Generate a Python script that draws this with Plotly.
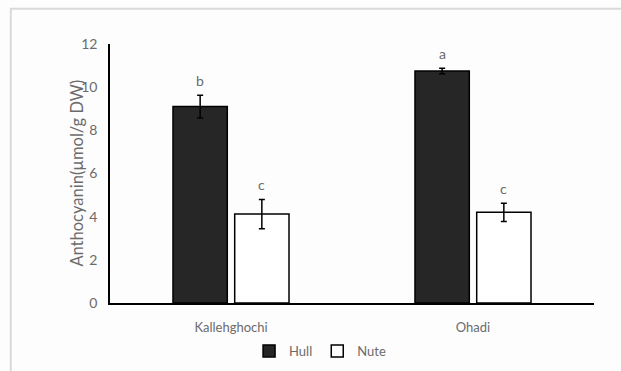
import plotly.graph_objects as go

# Data
cultivars = ["Kallehghochi", "Ohadi"]
hull_mean = [9.1, 10.75]
hull_err = [0.53, 0.13]
nute_mean = [4.12, 4.2]
nute_err = [0.68, 0.42]
hull_letters = ["b", "a"]
nute_letters = ["c", "c"]
y_ticks = [0, 2, 4, 6, 8, 10, 12]
y_title = "Anthocyanin(µmol/g DW)"

FONT = "Lato, 'Open Sans', sans-serif"
GRAY = "#6b6b6b"
BARGAP = 0.49

fig = go.Figure()
fig.add_trace(go.Bar(
    name="Hull", x=cultivars, y=hull_mean,
    marker=dict(color="#262626", line=dict(color="#000000", width=1.5)),
    error_y=dict(type="data", array=hull_err, color="#000000", thickness=1.5, width=3),
))
fig.add_trace(go.Bar(
    name="Nute", x=cultivars, y=nute_mean,
    marker=dict(color="#ffffff", line=dict(color="#000000", width=1.5)),
    error_y=dict(type="data", array=nute_err, color="#000000", thickness=1.5, width=3),
))

# significance letters above the error bars (centred on each grouped bar)
slot = (1 - BARGAP) / 2
for i, c in enumerate(cultivars):
    for off, mean, err, letter in ((-slot / 2, hull_mean[i], hull_err[i], hull_letters[i]),
                                   (slot / 2, nute_mean[i], nute_err[i], nute_letters[i])):
        fig.add_annotation(
            x=i + off, y=mean + err, xref="x", yref="y", text=letter,
            showarrow=False, yanchor="bottom", yshift=4,
            font=dict(family=FONT, size=14, color=GRAY),
        )

# y-axis title, placed as a rotated annotation
fig.add_annotation(
    x=-0.07, y=0.5, xref="paper", yref="paper", text=y_title, textangle=-90,
    showarrow=False, xanchor="center", yanchor="middle",
    font=dict(family=FONT, size=16.5, color=GRAY),
)

# chart frame
fig.add_shape(type="rect", xref="paper", yref="paper",
              x0=-0.205, x1=1.2, y0=-0.5, y1=1.136,
              line=dict(color="#d9d9d9", width=2), layer="below")

fig.update_layout(
    width=621, height=371,
    margin=dict(l=110, r=27, t=44, b=68, autoexpand=False),
    paper_bgcolor="#fdfdfd", plot_bgcolor="#fdfdfd",
    barmode="group", bargap=BARGAP, bargroupgap=0.12,
    font=dict(family=FONT, size=12, color=GRAY),
    showlegend=True,
    legend=dict(orientation="h", x=0.434, y=0.054, xref="paper", yref="container",
                xanchor="center", yanchor="middle",
                entrywidth=0, itemwidth=30, tracegroupgap=0,
                font=dict(family=FONT, size=13, color=GRAY),
                bgcolor="rgba(0,0,0,0)"),
    xaxis=dict(showline=True, linecolor="#000000", linewidth=1.5, ticks="",
               automargin=False, ticklabelstandoff=12,
               tickfont=dict(family=FONT, size=13, color=GRAY), showgrid=False),
    yaxis=dict(range=[0, 12], tickvals=y_ticks, showline=True, linecolor="#000000",
               linewidth=1.5, ticks="", showgrid=False, zeroline=False, automargin=False,
               ticklabelstandoff=8,
               tickfont=dict(family=FONT, size=14, color=GRAY)),
)

fig.write_html("out.html")
